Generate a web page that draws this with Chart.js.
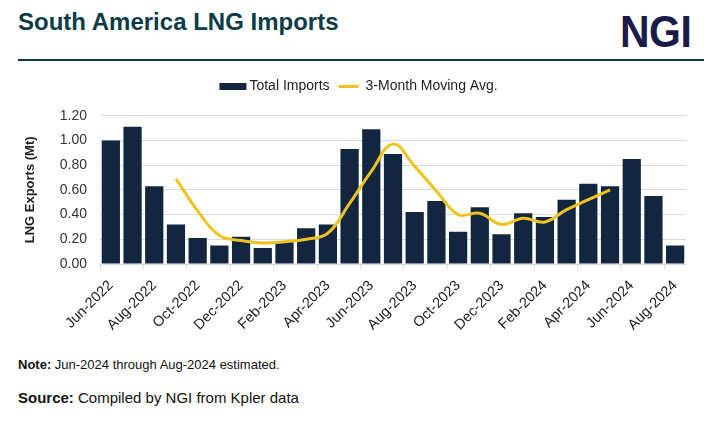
<!DOCTYPE html>
<html><head><meta charset="utf-8">
<script src="https://cdn.jsdelivr.net/npm/chart.js@4.4.0/dist/chart.umd.min.js"></script>
<style>
html,body{margin:0;padding:0;background:#fff}
body{width:720px;height:423px;overflow:hidden;position:relative;font-family:'Liberation Sans',Arial,sans-serif}
#title{position:absolute;left:18px;top:9.7px;font-size:24px;line-height:24px;font-weight:bold;color:#0b3b46;white-space:nowrap}
#logo{position:absolute;left:620px;top:9.5px;font-size:44px;line-height:44px;font-weight:bold;color:#1c1a4b;transform:scaleX(0.93);transform-origin:left top;letter-spacing:-0.5px}
#rule{position:absolute;left:18px;top:59px;width:686px;height:2px;background:#0b3b46}
#chartbox{position:absolute;left:0;top:0;width:720px;height:352px}
#note{position:absolute;left:18px;top:358px;font-size:13px;line-height:13px;color:#111;white-space:nowrap}
#source{position:absolute;left:18px;top:390px;font-size:15px;line-height:15px;color:#111;white-space:nowrap}
</style></head><body>
<div id="title">South America LNG Imports</div>
<div id="logo">NGI</div>
<div id="rule"></div>
<div id="chartbox"><canvas id="c" width="720" height="352"></canvas></div>
<div id="note"><b>Note:</b> Jun-2024 through Aug-2024 estimated.</div>
<div id="source"><b>Source:</b> Compiled by NGI from Kpler data</div>
<script>
const categories = ['Jun-2022','Jul-2022','Aug-2022','Sep-2022','Oct-2022','Nov-2022','Dec-2022',
  'Jan-2023','Feb-2023','Mar-2023','Apr-2023','May-2023','Jun-2023','Jul-2023','Aug-2023','Sep-2023',
  'Oct-2023','Nov-2023','Dec-2023','Jan-2024','Feb-2024','Mar-2024','Apr-2024','May-2024','Jun-2024',
  'Jul-2024','Aug-2024'];
const totalImports = [1.00,1.11,0.63,0.32,0.21,0.15,0.22,0.13,0.18,0.29,0.32,0.93,1.09,0.89,0.42,0.51,
  0.26,0.46,0.24,0.41,0.38,0.52,0.65,0.63,0.85,0.55,0.15];
const movingAvg = [null,null,null,0.69,0.43,0.23,0.19,0.17,0.18,0.20,0.25,0.49,0.75,0.97,0.79,0.59,
  0.40,0.41,0.32,0.37,0.34,0.44,0.52,0.60,null,null,null];
const yTicks = [0,0.2,0.4,0.6,0.8,1.0,1.2];
const seriesNames = ['Total Imports','3-Month Moving Avg.'];

const FONT = "'Liberation Sans', Arial, sans-serif";
const BAR = '#13263f', LINE = '#efc21f';

const legendPlugin = {
  id:'customLegend',
  afterDraw(chart){
    const ctx = chart.ctx, ds = chart.data.datasets;
    ctx.save();
    ctx.font = '14px ' + FONT;
    ctx.textBaseline = 'middle';
    const w0 = ctx.measureText(ds[0].label).width, w1 = ctx.measureText(ds[1].label).width;
    const total = 27+3+w0+9+20+7+w1;
    let x = 358.5 - total/2; const y = 86.5;
    ctx.fillStyle = ds[0].backgroundColor; ctx.fillRect(x, y-3.5, 27, 7); x += 30;
    ctx.fillStyle = '#222'; ctx.fillText(ds[0].label, x, y); x += w0 + 9;
    ctx.fillStyle = ds[1].borderColor; ctx.fillRect(x, y-1.5, 20, 3); x += 27;
    ctx.fillStyle = '#222'; ctx.fillText(ds[1].label, x, y);
    ctx.restore();
  }
};

new Chart(document.getElementById('c'), {
  type:'bar',
  data:{
    labels: categories,
    datasets:[
      {type:'bar', label:seriesNames[0], data:totalImports, backgroundColor:BAR, borderWidth:0,
       categoryPercentage:1.0, barPercentage:0.84, order:1},
      {type:'line', label:seriesNames[1], data:movingAvg, borderColor:LINE, backgroundColor:LINE,
       borderWidth:3, pointRadius:0, tension:0.4, spanGaps:false, fill:false, order:0}
    ]
  },
  options:{
    responsive:false, animation:false, devicePixelRatio:1,
    layout:{padding:{top:115.7, right:34, bottom:0, left:0}},
    plugins:{legend:{display:false}, tooltip:{enabled:false}},
    scales:{
      x:{
        grid:{drawOnChartArea:false, drawTicks:true, tickLength:5, offset:true,
          color:(c)=> (c.index % 2 === 0 && c.index < categories.length) ? '#d9d9d9' : 'rgba(0,0,0,0)'},
        border:{display:true, color:'#d9d9d9', width:1},
        ticks:{autoSkip:false, maxRotation:45, minRotation:45, padding:8, color:'#222',
          font:{family:FONT, size:14.5},
          callback:function(v, i){ return i % 2 === 0 ? categories[i] : ''; }},
        afterFit:(s)=>{ s.height = 88; }
      },
      y:{
        min:0, max:1.2,
        afterBuildTicks:(s)=>{ s.ticks = yTicks.map(v=>({value:v})); },
        grid:{color:'#d9d9d9', drawTicks:false},
        border:{display:false},
        ticks:{padding:13, color:'#333', font:{family:FONT, size:14},
          callback:(v)=>Number(v).toFixed(2)},
        title:{display:true, text:'LNG Exports (Mt)', color:'#222', font:{family:FONT, size:13, weight:'bold'}, padding:{top:23,bottom:0}},
        afterFit:(s)=>{ s.width = 100; }
      }
    }
  },
  plugins:[legendPlugin]
});
</script>
</body></html>
